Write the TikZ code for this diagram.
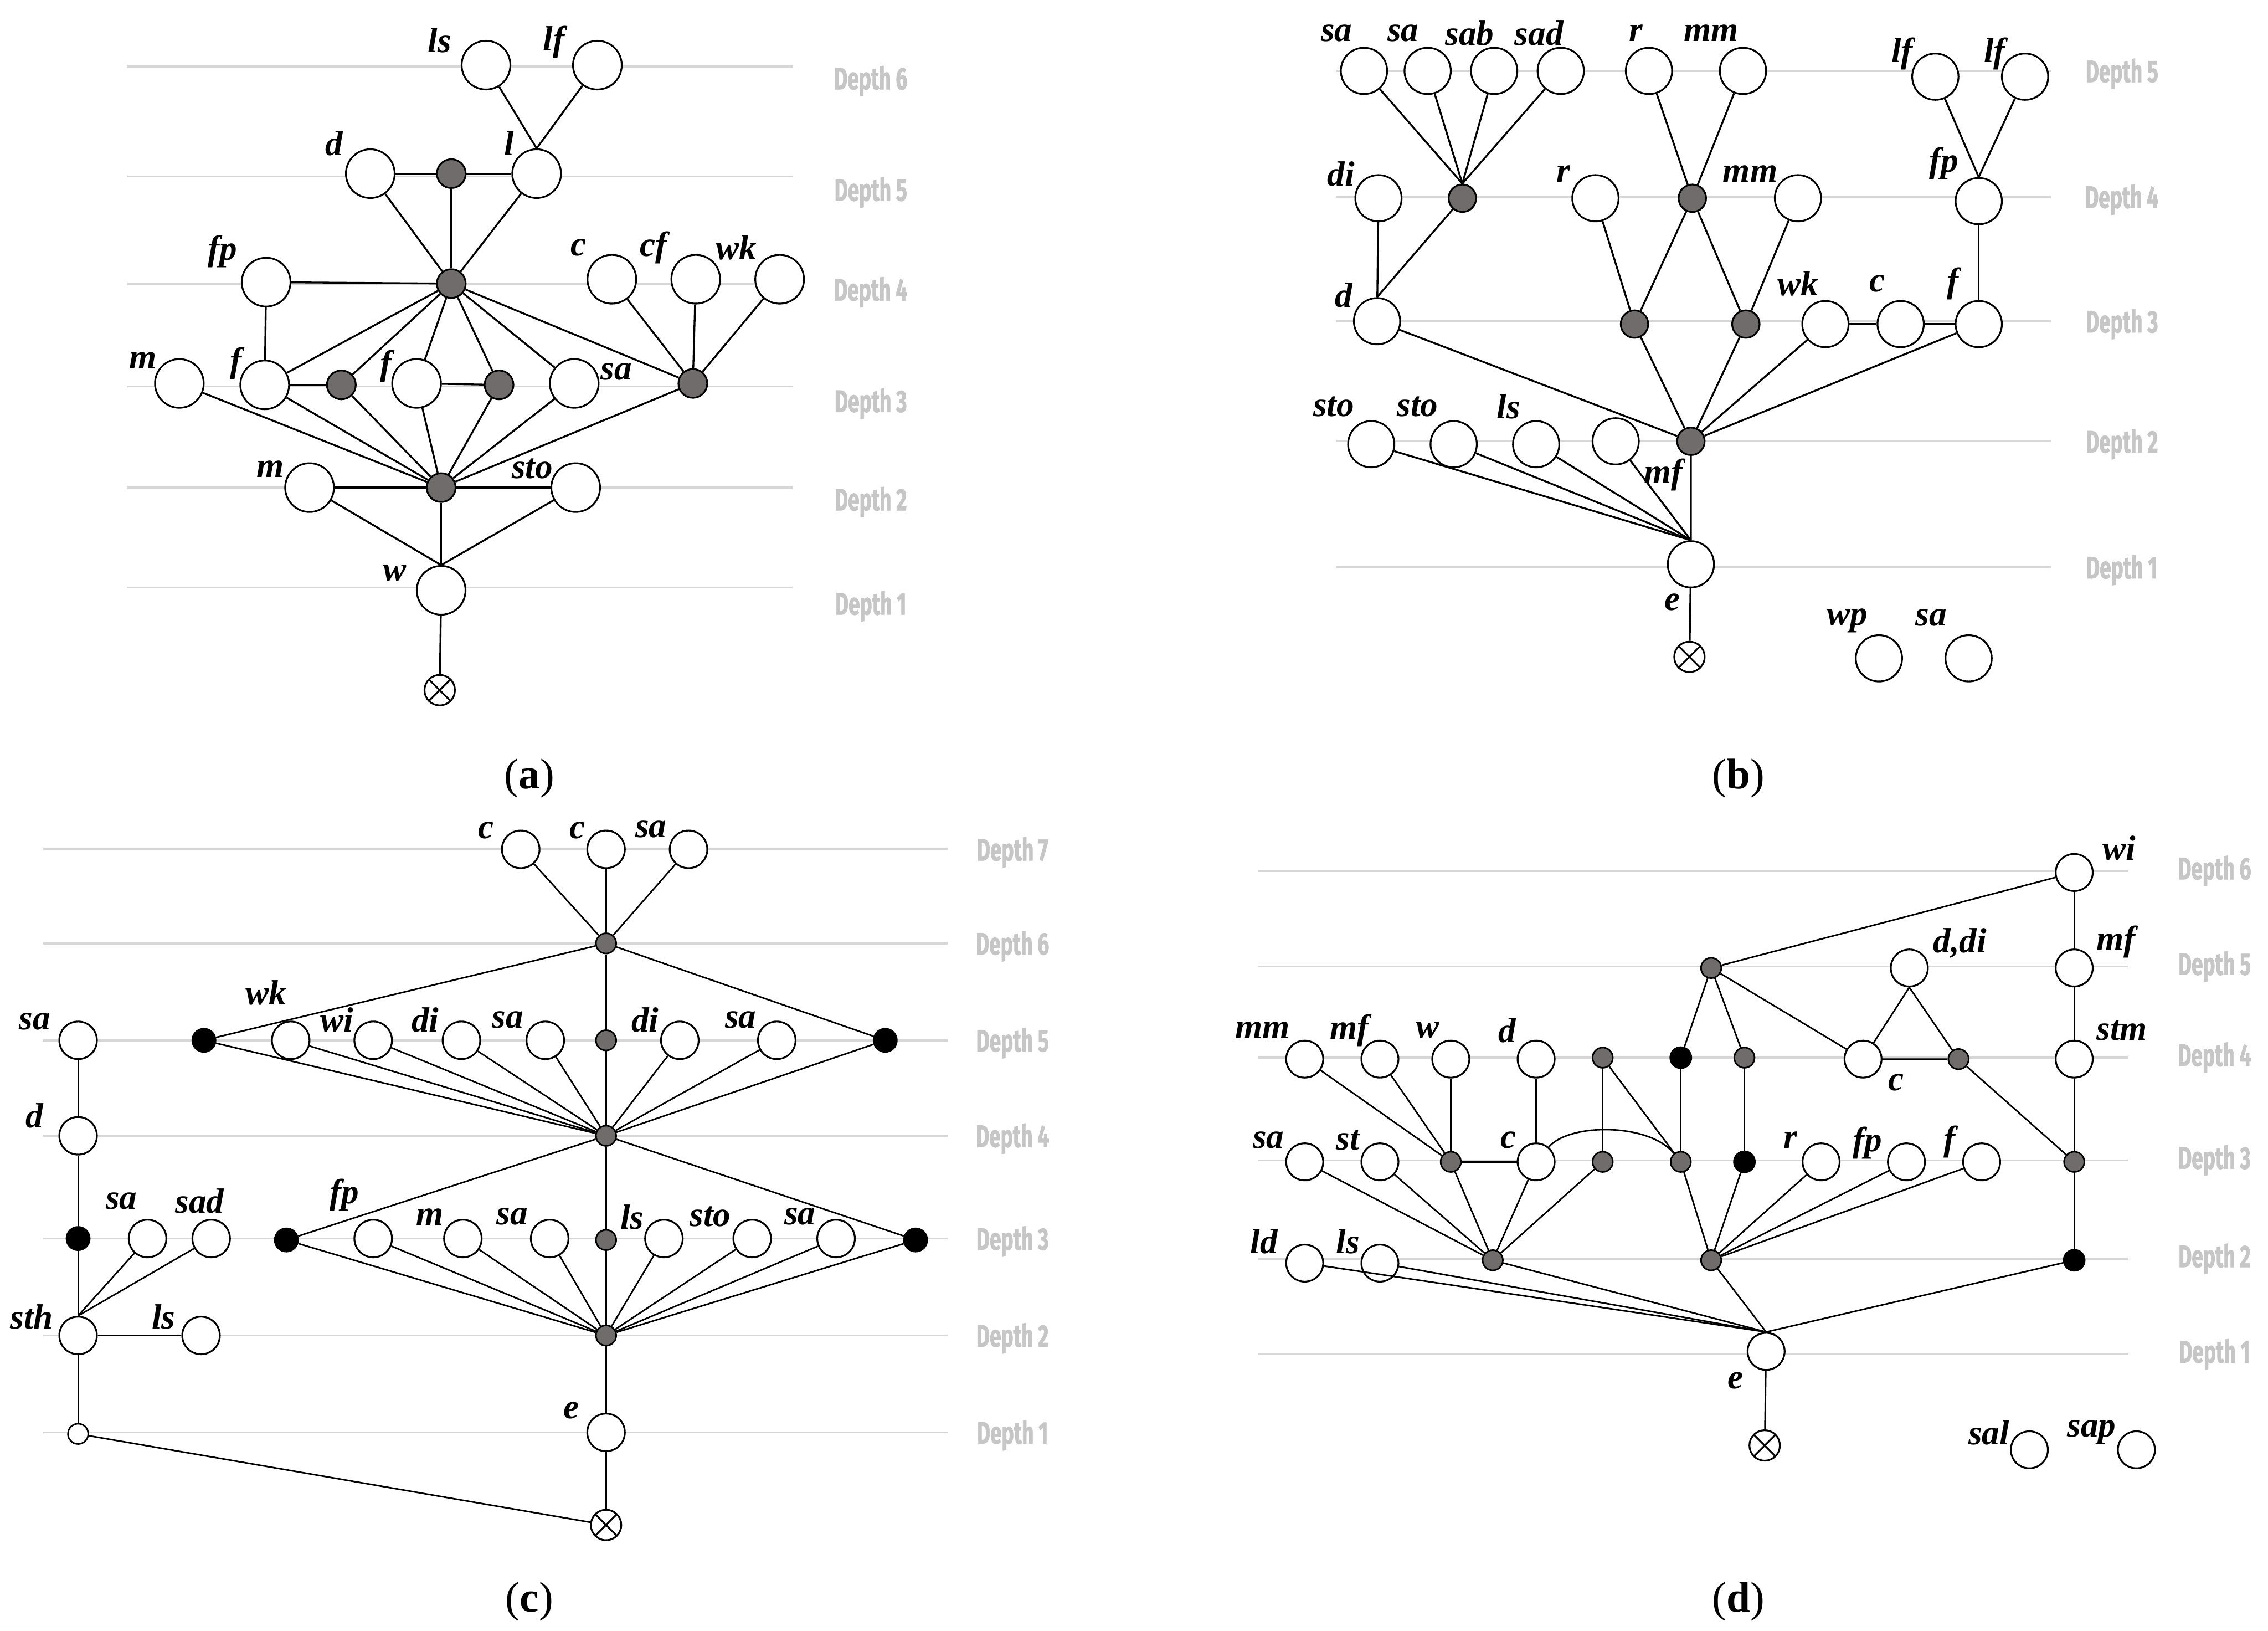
\documentclass[tikz,border=0pt]{standalone}
\usepackage{fontspec}
\setmainfont{Liberation Serif}
\newfontfamily\depthfont[FakeStretch=0.66, FakeBold=1.2]{Fira Sans}

\definecolor{lvlgray}{RGB}{215,215,215}
\definecolor{txtgray}{RGB}{198,198,198}
\definecolor{relgray}{RGB}{112,108,108}

\tikzset{
	obj/.style={circle, draw, fill=white, line width=0.9pt, inner sep=0pt, minimum size=0.88cm},
	rel/.style={circle, draw, fill=relgray, line width=0.9pt, inner sep=0pt, minimum size=0.52cm},
	blk/.style={circle, draw, fill=black, line width=0.8pt, inner sep=0pt, minimum size=0.42cm},
	root/.style={circle, draw, fill=white, line width=0.9pt, inner sep=0pt, minimum size=0.55cm,
		path picture={\draw[line width=0.9pt] (path picture bounding box.north west) -- (path picture bounding box.south east)
			(path picture bounding box.north east) -- (path picture bounding box.south west);}},
	edge/.style={line width=0.95pt},
	lvl/.style={draw=lvlgray, line width=1pt},
	dlab/.style={text=txtgray, inner sep=0pt, font={\depthfont\bfseries\fontsize{16}{17}\selectfont}},
	lbl/.style={inner sep=0pt, font={\fontsize{18}{20}\selectfont\bfseries\itshape}},
	capt/.style={inner sep=0pt, font={\fontsize{22}{24}\selectfont}}
}

\begin{document}
\begin{tikzpicture}[x=0.026116cm, y=-0.026116cm]
	
	\useasboundingbox (0,0) rectangle (1568,1127);
	
	% (a)
	\begin{scope}
		\foreach \y/\n/\ty in {46/6/56, 122/5/133, 196/4/202, 267/3/279, 337/2/347, 406/1/419} {
			\draw[lvl] (88,\y) -- (548,\y);
			\node[dlab] (a-dep\n) at (602,\ty) {Depth \n};
		}
		
		\node[obj] (a-ls) at (336,45) {};
		\node[obj] (a-lf) at (413,45) {};
		\node[obj] (a-d) at (256,120) {};
		\node[rel] (a-g5) at (312,120) {};
		\node[obj] (a-l) at (371,120) {};
		\node[rel] (a-h4) at (312,196) {};
		\node[obj] (a-fp) at (184,195) {};
		\node[obj] (a-c) at (423,193) {};
		\node[obj] (a-cf) at (481,193) {};
		\node[obj] (a-wk) at (539,193) {};
		\node[obj] (a-m) at (124,265) {};
		\node[obj] (a-f) at (183,266) {};
		\node[rel] (a-g1) at (236,266) {};
		\node[obj] (a-f2) at (288,265) {};
		\node[rel] (a-g2) at (345,266) {};
		\node[obj] (a-sa) at (397,265) {};
		\node[rel] (a-g3) at (479,265) {};
		\node[rel] (a-h2) at (305,337) {};
		\node[obj] (a-m2) at (214,337) {};
		\node[obj] (a-sto) at (398,337) {};
		\node[obj] (a-w) at (305,408) {};
		\node[root] (a-x) at (304,477) {};
		
		\node[lbl] (a-ls-t) at (304,28) {ls};
		\node[lbl] (a-lf-t) at (383,29) {lf};
		\node[lbl] (a-d-t) at (231,99) {d};
		\node[lbl] (a-l-t) at (352,99) {l};
		\node[lbl] (a-fp-t) at (154,174) {fp};
		\node[lbl] (a-c-t) at (400,171) {c};
		\node[lbl] (a-cf-t) at (452,171) {cf};
		\node[lbl] (a-wk-t) at (509,171) {wk};
		\node[lbl] (a-m-t) at (99,249) {m};
		\node[lbl] (a-f-t) at (163,251) {f};
		\node[lbl] (a-f2-t) at (267,253) {f};
		\node[lbl] (a-sa-t) at (426,257) {sa};
		\node[lbl] (a-m2-t) at (187,324) {m};
		\node[lbl] (a-sto-t) at (368,324) {sto};
		\node[lbl] (a-w-t) at (273,396) {w};
		
		\draw[edge] (a-ls) -- (a-l.north);
		\draw[edge] (a-lf) -- (a-l.north);
		\draw[edge] (a-d) -- (a-g5) -- (a-l);
		\foreach \s in {a-d,a-g5,a-l,a-fp} \draw[edge] (\s) -- (a-h4);
		\draw[edge] (a-fp) -- (a-f);
		\foreach \t in {a-f,a-g1,a-f2,a-g2,a-sa,a-g3} \draw[edge] (a-h4) -- (\t);
		\draw[edge] (a-f) -- (a-g1);
		\draw[edge] (a-f2) -- (a-g2);
		\foreach \s in {a-c,a-cf,a-wk} \draw[edge] (\s) -- (a-g3);
		\foreach \s in {a-m,a-f,a-g1,a-f2,a-g2,a-sa,a-g3} \draw[edge] (\s) -- (a-h2);
		\draw[edge] (a-m2) -- (a-h2) -- (a-sto);
		\foreach \s in {a-m2,a-h2,a-sto} \draw[edge] (\s) -- (a-w.north);
		\draw[edge] (a-w) -- (a-x);
		
		\node[capt] (a-cap) at (366,538) {(\textbf{a})};
	\end{scope}
	
	% (b)
	\begin{scope}[obj/.append style={minimum size=0.836cm}, rel/.append style={minimum size=0.496cm}]
		\foreach \y/\n in {49/5, 136/4, 222/3, 305/2, 392/1} {
			\draw[lvl] (924,\y) -- (1418,\y);
			\node[dlab] (b-dep\n) at (1467,\y+2) {Depth \n};
		}
		
		\node[obj] (b-sa1) at (943,49) {};
		\node[obj] (b-sa2) at (987,49) {};
		\node[obj] (b-sab) at (1033,49) {};
		\node[obj] (b-sad) at (1079,49) {};
		\node[obj] (b-r) at (1140,49) {};
		\node[obj] (b-mm) at (1205,49) {};
		\node[obj] (b-lf1) at (1338,53) {};
		\node[obj] (b-lf2) at (1400,53) {};
		\node[obj] (b-di) at (953,137) {};
		\node[rel] (b-g4a) at (1011,137) {};
		\node[obj] (b-r2) at (1103,137) {};
		\node[rel] (b-g4b) at (1170,137) {};
		\node[obj] (b-mm2) at (1243,137) {};
		\node[obj] (b-fp) at (1368,139) {};
		\node[obj] (b-d) at (952,222) {};
		\node[rel] (b-g3a) at (1130,224) {};
		\node[rel] (b-g3b) at (1207,224) {};
		\node[obj] (b-wk) at (1262,224) {};
		\node[obj] (b-c) at (1314,224) {};
		\node[obj] (b-f) at (1368,224) {};
		\node[obj] (b-sto1) at (948,307) {};
		\node[obj] (b-sto2) at (1005,307) {};
		\node[obj] (b-ls) at (1062,307) {};
		\node[obj] (b-u) at (1117,305) {};
		\node[rel] (b-h2) at (1169,305) {};
		\node[obj] (b-e) at (1169,390) {};
		\node[root] (b-x) at (1168,454) {};
		\node[obj] (b-wp) at (1299,455) {};
		\node[obj] (b-sa3) at (1361,455) {};
		
		\node[lbl] (b-sa1-t) at (924,23) {sa};
		\node[lbl] (b-sa2-t) at (970,23) {sa};
		\node[lbl] (b-sab-t) at (1016,23) {sab};
		\node[lbl] (b-sad-t) at (1064,23) {sad};
		\node[lbl] (b-r-t) at (1131,23) {r};
		\node[lbl] (b-mm-t) at (1183,23) {mm};
		\node[lbl] (b-lf1-t) at (1315,37) {lf};
		\node[lbl] (b-lf2-t) at (1379,37) {lf};
		\node[lbl] (b-di-t) at (927,120) {di};
		\node[lbl] (b-r2-t) at (1081,120) {r};
		\node[lbl] (b-mm2-t) at (1210,120) {mm};
		\node[lbl] (b-fp-t) at (1344,113) {fp};
		\node[lbl] (b-d-t) at (929,204) {d};
		\node[lbl] (b-wk-t) at (1243,196) {wk};
		\node[lbl] (b-c-t) at (1298,196) {c};
		\node[lbl] (b-f-t) at (1350,196) {f};
		\node[lbl] (b-sto1-t) at (922,281) {sto};
		\node[lbl] (b-sto2-t) at (980,281) {sto};
		\node[lbl] (b-ls-t) at (1043,281) {ls};
		\node[lbl] (b-mf-t) at (1150,328) {mf};
		\node[lbl] (b-e-t) at (1156,416) {e};
		\node[lbl] (b-wp-t) at (1277,429) {wp};
		\node[lbl] (b-sa3-t) at (1335,427) {sa};
		
		\foreach \s in {b-sa1,b-sa2,b-sab,b-sad} \draw[edge] (\s) -- (b-g4a.north);
		\foreach \s in {b-r,b-mm} \draw[edge] (\s) -- (b-g4b);
		\foreach \s in {b-lf1,b-lf2} \draw[edge] (\s) -- (b-fp.north);
		\draw[edge] (b-di) -- (b-d);
		\draw[edge] (b-g4a) -- (b-d.north);
		\draw[edge] (b-r2) -- (b-g3a) -- (b-g4b) -- (b-g3b) -- (b-mm2);
		\draw[edge] (b-fp) -- (b-f);
		\draw[edge] (b-wk) -- (b-c) -- (b-f);
		\foreach \s in {b-d,b-g3a,b-g3b,b-wk,b-f} \draw[edge] (\s) -- (b-h2);
		\foreach \s in {b-sto1,b-sto2,b-ls,b-u} \draw[edge] (\s) -- (b-e.north);
		\draw[edge] (b-h2) -- (b-e) -- (b-x);
		
		\node[capt] (b-cap) at (1202,538) {(\textbf{b})};
	\end{scope}
	
	% (c)
	\begin{scope}[obj/.append style={minimum size=0.679cm}, rel/.append style={minimum size=0.366cm, line width=0.8pt}, edge/.append style={line width=0.8pt}]
		\foreach \y/\n in {587/7, 652/6, 719/5, 785/4, 856/3, 923/2, 990/1} {
			\draw[lvl] (30,\y) -- (655,\y);
			\node[dlab] (c-dep\n) at (700,\y+2) {Depth \n};
		}
		
		\node[obj] (c-c1) at (360,587) {};
		\node[obj] (c-c2) at (419,587) {};
		\node[obj] (c-sa) at (476,587) {};
		\node[rel] (c-g6) at (419,652) {};
		\node[obj] (c-saL) at (54,719) {};
		\node[blk] (c-bL5) at (141,719) {};
		\node[obj] (c-wk) at (201,719) {};
		\node[obj] (c-wi) at (258,719) {};
		\node[obj] (c-di) at (319,719) {};
		\node[obj] (c-sa5) at (377,719) {};
		\node[rel] (c-g5) at (419,719) {};
		\node[obj] (c-di2) at (470,719) {};
		\node[obj] (c-sa6) at (537,719) {};
		\node[blk] (c-bR5) at (612,719) {};
		\node[obj] (c-d) at (54,785) {};
		\node[rel] (c-h4) at (419,785) {};
		\node[blk] (c-b3) at (54,856) {};
		\node[obj] (c-sa3) at (102,856) {};
		\node[obj] (c-sad) at (146,856) {};
		\node[blk] (c-bL3) at (198,857) {};
		\node[obj] (c-fp) at (258,856) {};
		\node[obj] (c-m) at (320,856) {};
		\node[obj] (c-sa4) at (380,856) {};
		\node[rel] (c-g3) at (419,857) {};
		\node[obj] (c-ls) at (459,856) {};
		\node[obj] (c-sto) at (520,856) {};
		\node[obj] (c-sa7) at (578,856) {};
		\node[blk] (c-bR3) at (633,857) {};
		\node[obj] (c-sth) at (54,923) {};
		\node[obj] (c-ls2) at (139,923) {};
		\node[rel] (c-h2) at (419,923) {};
		\node[obj, minimum size=0.366cm, line width=0.8pt] (c-t1) at (54,991) {};
		\node[obj] (c-e) at (419,990) {};
		\node[root] (c-x) at (419,1054) {};
		
		\node[lbl] (c-c1-t) at (336,574) {c};
		\node[lbl] (c-c2-t) at (399,574) {c};
		\node[lbl] (c-sa-t) at (450,573) {sa};
		\node[lbl] (c-wk-t) at (184,686) {wk};
		\node[lbl] (c-wi-t) at (233,705) {wi};
		\node[lbl] (c-di-t) at (294,705) {di};
		\node[lbl] (c-sa5-t) at (351,705) {sa};
		\node[lbl] (c-di2-t) at (446,705) {di};
		\node[lbl] (c-sa6-t) at (512,705) {sa};
		\node[lbl] (c-saL-t) at (24,706) {sa};
		\node[lbl] (c-d-t) at (24,771) {d};
		\node[lbl] (c-sa3-t) at (84,830) {sa};
		\node[lbl] (c-sad-t) at (138,830) {sad};
		\node[lbl] (c-fp-t) at (238,826) {fp};
		\node[lbl] (c-m-t) at (297,841) {m};
		\node[lbl] (c-sa4-t) at (354,841) {sa};
		\node[lbl] (c-ls-t) at (437,841) {ls};
		\node[lbl] (c-sto-t) at (491,841) {sto};
		\node[lbl] (c-sa7-t) at (553,841) {sa};
		\node[lbl] (c-sth-t) at (22,910) {sth};
		\node[lbl] (c-ls2-t) at (113,910) {ls};
		\node[lbl] (c-e-t) at (395,975) {e};
		
		\foreach \s in {c-c1,c-c2,c-sa} \draw[edge] (\s) -- (c-g6);
		\foreach \t in {c-bL5,c-g5,c-bR5} \draw[edge] (c-g6) -- (\t);
		\foreach \s in {c-bL5,c-wk,c-wi,c-di,c-sa5,c-g5,c-di2,c-sa6,c-bR5} \draw[edge] (\s) -- (c-h4);
		\foreach \t in {c-bL3,c-g3,c-bR3} \draw[edge] (c-h4) -- (\t);
		\foreach \s in {c-bL3,c-fp,c-m,c-sa4,c-g3,c-ls,c-sto,c-sa7,c-bR3} \draw[edge] (\s) -- (c-h2);
		\draw[edge] (c-h2) -- (c-e) -- (c-x);
		\draw[edge] (c-saL) -- (c-d) -- (c-b3) -- (c-sth) -- (c-t1);
		\foreach \s in {c-sa3,c-sad} \draw[edge] (\s) -- (c-sth.north);
		\draw[edge] (c-sth) -- (c-ls2);
		\draw[edge] (c-t1) -- (c-x);
		
		\node[capt] (c-cap) at (366,1107) {(\textbf{c})};
	\end{scope}
	
	% (d)
	\begin{scope}[obj/.append style={minimum size=0.669cm}, rel/.append style={minimum size=0.366cm, line width=0.8pt}, edge/.append style={line width=0.8pt}, blk/.append style={minimum size=0.38cm}]
		\foreach \y/\n in {602/6, 668/5, 731/4, 802/3, 870/2, 936/1} {
			\draw[lvl] (870,\y) -- (1471,\y);
			\node[dlab] (d-dep\n) at (1531,\y) {Depth \n};
		}
		
		\node[obj] (d-wi) at (1434,603) {};
		\node[rel] (d-g5) at (1183,669) {};
		\node[obj] (d-ddi) at (1320,669) {};
		\node[obj] (d-mf) at (1434,669) {};
		\node[obj] (d-mm) at (902,732) {};
		\node[obj] (d-mf2) at (954,732) {};
		\node[obj] (d-w) at (1003,732) {};
		\node[obj] (d-d) at (1062,732) {};
		\node[rel] (d-g4a) at (1108,731) {};
		\node[blk] (d-b4) at (1162,731) {};
		\node[rel] (d-g4b) at (1206,731) {};
		\node[obj] (d-c) at (1288,732) {};
		\node[rel] (d-g4c) at (1354,732) {};
		\node[obj] (d-stm) at (1434,732) {};
		\node[obj] (d-sa) at (902,803) {};
		\node[obj] (d-st) at (954,803) {};
		\node[rel] (d-g3a) at (1003,803) {};
		\node[obj] (d-c2) at (1062,803) {};
		\node[rel] (d-g3b) at (1108,803) {};
		\node[rel] (d-g3c) at (1162,803) {};
		\node[blk] (d-b3) at (1206,803) {};
		\node[obj] (d-r) at (1259,803) {};
		\node[obj] (d-fp) at (1318,803) {};
		\node[obj] (d-f) at (1370,803) {};
		\node[rel] (d-g3d) at (1434,803) {};
		\node[obj] (d-ld) at (902,873) {};
		\node[obj] (d-ls) at (954,873) {};
		\node[rel] (d-h2a) at (1032,871) {};
		\node[rel] (d-h2b) at (1183,871) {};
		\node[blk] (d-b2) at (1434,871) {};
		\node[obj] (d-e) at (1221,934) {};
		\node[root] (d-x) at (1220,999) {};
		\node[obj] (d-sal) at (1403,1002) {};
		\node[obj] (d-sap) at (1477,1002) {};
		
		\node[lbl] (d-wi-t) at (1465,586) {wi};
		\node[lbl] (d-ddi-t) at (1355,652) {d,di};
		\node[lbl] (d-mf-t) at (1463,651) {mf};
		\node[lbl] (d-mm-t) at (873,712) {mm};
		\node[lbl] (d-mf2-t) at (933,712) {mf};
		\node[lbl] (d-w-t) at (987,712) {w};
		\node[lbl] (d-d-t) at (1042,712) {d};
		\node[lbl] (d-c-t) at (1311,748) {c};
		\node[lbl] (d-stm-t) at (1467,712) {stm};
		\node[lbl] (d-sa-t) at (877,788) {sa};
		\node[lbl] (d-st-t) at (932,788) {st};
		\node[lbl] (d-c2-t) at (1043,788) {c};
		\node[lbl] (d-r-t) at (1238,788) {r};
		\node[lbl] (d-fp-t) at (1291,790) {fp};
		\node[lbl] (d-f-t) at (1348,789) {f};
		\node[lbl] (d-ld-t) at (874,858) {ld};
		\node[lbl] (d-ls-t) at (932,858) {ls};
		\node[lbl] (d-e-t) at (1200,954) {e};
		\node[lbl] (d-sal-t) at (1375,990) {sal};
		\node[lbl] (d-sap-t) at (1446,990) {sap};
		
		\draw[edge] (d-wi) -- (d-g5);
		\draw[edge] (d-wi) -- (d-mf) -- (d-stm) -- (d-g3d) -- (d-b2);
		\foreach \t in {d-b4,d-g4b,d-c} \draw[edge] (d-g5) -- (\t);
		\draw[edge] (d-ddi.south) -- (d-c);
		\draw[edge] (d-ddi.south) -- (d-g4c);
		\draw[edge] (d-c) -- (d-g4c) -- (d-g3d);
		\foreach \s in {d-mm,d-mf2,d-w} \draw[edge] (\s) -- (d-g3a);
		\draw[edge] (d-d) -- (d-c2);
		\draw[edge] (d-g3a) -- (d-c2);
		\draw[edge] (d-g4a) -- (d-g3b);
		\draw[edge] (d-g4a) -- (d-g3c);
		\draw[edge] (d-b4) -- (d-g3c);
		\draw[edge] (d-g4b) -- (d-b3);
		\draw[edge] (d-c2) .. controls (1085,776) and (1140,776) .. (d-g3c);
		\foreach \s in {d-sa,d-st,d-g3a,d-c2,d-g3b} \draw[edge] (\s) -- (d-h2a);
		\foreach \s in {d-g3c,d-b3,d-r,d-fp,d-f} \draw[edge] (\s) -- (d-h2b);
		\foreach \s in {d-ld,d-ls,d-h2a,d-h2b,d-b2} \draw[edge] (\s) -- (d-e.north);
		\draw[edge] (d-e) -- (d-x);
		
		\node[capt] (d-cap) at (1202,1107) {(\textbf{d})};
	\end{scope}
	
\end{tikzpicture}
\end{document}
